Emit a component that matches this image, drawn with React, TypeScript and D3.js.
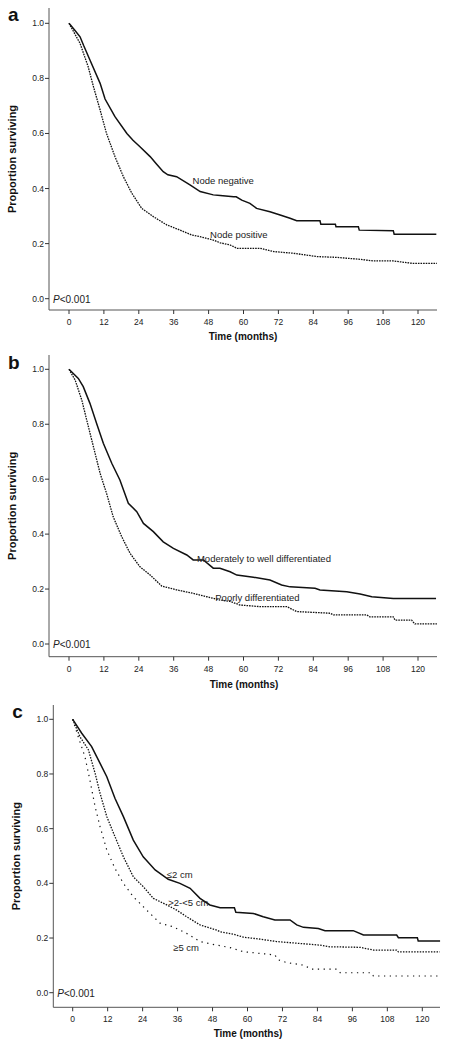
import React from "react";
import * as d3 from "d3";

// ---------- data ----------
const xTicks = [0, 12, 24, 36, 48, 60, 72, 84, 96, 108, 120];
const yTicks = [0, 0.2, 0.4, 0.6, 0.8, 1.0];

// Panel a
const nodeNegT = [0, 2, 3.8, 5, 7.2, 10.7, 12.4, 15.8, 19.9, 22, 24.4, 27.9, 30, 32.4, 34, 37, 41.6, 45.1, 49.6, 52, 56.6, 57.5, 59.4, 62.2, 64.5, 69.1, 72.6, 76, 78.3, 86.3, 86.6, 91.6, 91.8, 99.5, 99.8, 111.5, 111.8, 126.3];
const nodeNegS = [1.0, 0.975, 0.951, 0.92, 0.867, 0.782, 0.725, 0.661, 0.6, 0.575, 0.552, 0.516, 0.49, 0.461, 0.45, 0.443, 0.413, 0.389, 0.377, 0.375, 0.37, 0.37, 0.358, 0.346, 0.328, 0.316, 0.304, 0.292, 0.283, 0.283, 0.27, 0.27, 0.261, 0.261, 0.249, 0.247, 0.234, 0.234];
const nodePosT = [0, 3.8, 6.6, 8.4, 10.7, 12.9, 15.8, 18.7, 21.6, 25, 29, 33.6, 38.2, 42.3, 45.1, 49.6, 52, 55.4, 57.8, 65.7, 70.4, 77.2, 85.2, 92.1, 100.1, 104.7, 111.5, 118.4, 126.5];
const nodePosS = [1.0, 0.927, 0.842, 0.77, 0.685, 0.6, 0.516, 0.443, 0.383, 0.328, 0.298, 0.268, 0.249, 0.231, 0.225, 0.213, 0.203, 0.195, 0.183, 0.183, 0.171, 0.165, 0.153, 0.15, 0.143, 0.137, 0.137, 0.128, 0.128];

// Panel b
const modT = [0, 3.2, 4.9, 7.2, 9.5, 11.8, 14.7, 17.5, 20.4, 23.3, 25.6, 29, 32.4, 35.9, 40.5, 42.7, 46.2, 49.6, 51.9, 55.4, 57.7, 63.4, 69.1, 73.1, 76, 84.6, 86.3, 95.5, 100.1, 104.1, 111.5, 126.2];
const modS = [1.0, 0.967, 0.937, 0.876, 0.803, 0.731, 0.658, 0.597, 0.512, 0.482, 0.439, 0.409, 0.372, 0.348, 0.324, 0.306, 0.306, 0.276, 0.276, 0.263, 0.251, 0.243, 0.233, 0.215, 0.208, 0.203, 0.197, 0.19, 0.182, 0.172, 0.166, 0.166];
const poorT = [0, 2.1, 4.4, 6.1, 8.4, 10.7, 12.9, 15.2, 18.1, 21, 24.4, 27.9, 31.9, 37, 41.6, 47.4, 51.9, 55.4, 58.8, 65.7, 74.9, 78.3, 89.8, 90.9, 102.4, 103.4, 111.5, 112.1, 117.8, 118.9, 126.5];
const poorS = [1.0, 0.961, 0.888, 0.815, 0.718, 0.621, 0.549, 0.463, 0.391, 0.33, 0.281, 0.251, 0.211, 0.197, 0.187, 0.172, 0.16, 0.155, 0.142, 0.136, 0.136, 0.118, 0.112, 0.106, 0.106, 0.099, 0.099, 0.087, 0.087, 0.073, 0.073];

// Panel c
const smallT = [0, 3.1, 6.5, 9.4, 11.7, 14.5, 17.4, 20.8, 24.2, 28.3, 32.8, 36.8, 40.3, 43.7, 47.1, 50.6, 55.5, 56, 62, 65.4, 69.4, 74.6, 76.9, 79.2, 84.3, 86.6, 96.3, 99.8, 111.2, 111.8, 118.3, 118.6, 126.1];
const smallS = [1.0, 0.949, 0.9, 0.839, 0.79, 0.711, 0.644, 0.558, 0.497, 0.449, 0.415, 0.4, 0.382, 0.345, 0.321, 0.311, 0.311, 0.294, 0.29, 0.278, 0.266, 0.266, 0.248, 0.239, 0.235, 0.227, 0.227, 0.211, 0.211, 0.201, 0.201, 0.189, 0.189];
const midT = [0, 2.5, 5.4, 7.7, 9.4, 11.7, 14.5, 17.4, 20.8, 24.2, 27.7, 32.3, 35.7, 39.1, 43.7, 49.4, 50.6, 55.1, 58.6, 64.3, 70, 76.9, 84.9, 88.3, 98.6, 103.2, 111.2, 111.8, 126];
const midS = [1.0, 0.936, 0.888, 0.802, 0.729, 0.644, 0.571, 0.497, 0.424, 0.388, 0.345, 0.321, 0.302, 0.278, 0.248, 0.229, 0.223, 0.214, 0.203, 0.196, 0.187, 0.181, 0.174, 0.168, 0.166, 0.156, 0.156, 0.149, 0.149];
const largeT = [0, 1.9, 4.2, 5.9, 7.7, 9.4, 11.7, 14.5, 17.4, 20.8, 25.4, 30, 34.5, 39.1, 43.7, 49.4, 50.6, 54, 58.6, 69.4, 70.6, 73.5, 79.2, 82, 90.6, 91.8, 102.6, 103.2, 126];
const largeS = [1.0, 0.936, 0.863, 0.778, 0.68, 0.607, 0.522, 0.455, 0.4, 0.351, 0.302, 0.254, 0.241, 0.217, 0.187, 0.174, 0.172, 0.165, 0.15, 0.138, 0.12, 0.11, 0.101, 0.086, 0.086, 0.073, 0.073, 0.061, 0.061];

// ---------- layout ----------
type Series = { t: number[]; s: number[]; dash?: string; width: number };
type Label = { text: string; t: number; v: number };
type Panel = {
  letter: string;
  letterY: number;
  axisX: number;
  axisTop: number;
  axisBottom: number;
  axisRight: number;
  x0: number;
  x120: number;
  y0: number;
  y1: number;
  series: Series[];
  labels: Label[];
  titleX: number;
  titleY: number;
};

const panels: Panel[] = [
  {
    letter: "a", letterY: 21, axisX: 49, axisTop: 8, axisBottom: 310, axisRight: 437,
    x0: 69, x120: 418, y0: 298.7, y1: 23.3, titleX: 243, titleY: 340,
    series: [
      { t: nodeNegT, s: nodeNegS, width: 1.5 },
      { t: nodePosT, s: nodePosS, dash: "1.6,1", width: 1.3 },
    ],
    labels: [
      { text: "Node negative", t: 42.5, v: 0.418 },
      { text: "Node positive", t: 48.5, v: 0.22 },
    ],
  },
  {
    letter: "b", letterY: 369, axisX: 49, axisTop: 355, axisBottom: 656.7, axisRight: 437,
    x0: 69, x120: 418, y0: 644, y1: 369.3, titleX: 244, titleY: 688,
    series: [
      { t: modT, s: modS, width: 1.5 },
      { t: poorT, s: poorS, dash: "1.6,1", width: 1.3 },
    ],
    labels: [
      { text: "Moderately to well differentiated", t: 44, v: 0.3 },
      { text: "Poorly differentiated", t: 50.3, v: 0.158 },
    ],
  },
  {
    letter: "c", letterY: 718, axisX: 53.3, axisTop: 705, axisBottom: 1007.3, axisRight: 440,
    x0: 72.7, x120: 422.3, y0: 992.7, y1: 719.3, titleX: 248, titleY: 1037,
    series: [
      { t: smallT, s: smallS, width: 1.5 },
      { t: midT, s: midS, dash: "1.5,1.3", width: 1.3 },
      { t: largeT, s: largeS, dash: "1.3,4.5", width: 1.2 },
    ],
    labels: [
      { text: "≤2 cm", t: 32.3, v: 0.418 },
      { text: ">2-<5 cm", t: 32.8, v: 0.316 },
      { text: "≥5 cm", t: 34.5, v: 0.151 },
    ],
  },
];

const FONT = "'Liberation Sans', Arial, sans-serif";

function PanelView({ p }: { p: Panel }) {
  const x = d3.scaleLinear().domain([0, 120]).range([p.x0, p.x120]);
  const y = d3.scaleLinear().domain([0, 1]).range([p.y0, p.y1]);
  const line = d3
    .line<[number, number]>()
    .x((d) => x(d[0]))
    .y((d) => y(d[1]))
    .curve(d3.curveLinear);
  const midY = (p.axisTop + p.axisBottom) / 2;
  return (
    <g>
      <text x={p.axisX - 41} y={p.letterY} fontFamily={FONT} fontWeight="bold" fontSize={19} fill="#111">
        {p.letter}
      </text>
      {/* axes */}
      <line x1={p.axisX} x2={p.axisX} y1={p.axisTop} y2={p.axisBottom} stroke="#555" strokeWidth={1} />
      <line x1={p.axisX} x2={p.axisRight} y1={p.axisBottom} y2={p.axisBottom} stroke="#555" strokeWidth={1} />
      {yTicks.map((v) => (
        <g key={"y" + v}>
          <line x1={p.axisX - 4} x2={p.axisX} y1={y(v)} y2={y(v)} stroke="#333" strokeWidth={1} />
          <text x={p.axisX - 5} y={y(v) + 3} textAnchor="end" fontFamily={FONT} fontSize={8.5} fill="#222">
            {d3.format(".1f")(v)}
          </text>
        </g>
      ))}
      {xTicks.map((t) => (
        <g key={"x" + t}>
          <line x1={x(t)} x2={x(t)} y1={p.axisBottom} y2={p.axisBottom + 4} stroke="#333" strokeWidth={1} />
          <text x={x(t)} y={p.axisBottom + 15} textAnchor="middle" fontFamily={FONT} fontSize={8.5} fill="#222">
            {t}
          </text>
        </g>
      ))}
      <text
        transform={`translate(${p.axisX - 33},${midY}) rotate(-90)`}
        textAnchor="middle"
        fontFamily={FONT}
        fontWeight="bold"
        fontSize={11}
        fill="#111"
      >
        Proportion surviving
      </text>
      <text x={p.titleX} y={p.titleY} textAnchor="middle" fontFamily={FONT} fontWeight="bold" fontSize={10} fill="#111">
        Time (months)
      </text>
      {/* curves */}
      {p.series.map((s, i) => (
        <path
          key={i}
          d={line(s.t.map((t, k) => [t, s.s[k]] as [number, number])) || ""}
          fill="none"
          stroke="#111"
          strokeWidth={s.width}
          strokeDasharray={s.dash}
        />
      ))}
      {p.labels.map((l) => (
        <text key={l.text} x={x(l.t)} y={y(l.v)} fontFamily={FONT} fontSize={9.5} fill="#222">
          {l.text}
        </text>
      ))}
      <text x={p.axisX + 4} y={p.y0 + 4} fontFamily={FONT} fontSize={10} fill="#222">
        <tspan fontStyle="italic">P</tspan>
        {"<0.001"}
      </text>
    </g>
  );
}

export default function App() {
  return (
    <svg
      width={458}
      height={1048}
      style={{ position: "absolute", left: 0, top: 0, display: "block", background: "#fff" }}
    >
      {panels.map((p) => (
        <PanelView key={p.letter} p={p} />
      ))}
    </svg>
  );
}
